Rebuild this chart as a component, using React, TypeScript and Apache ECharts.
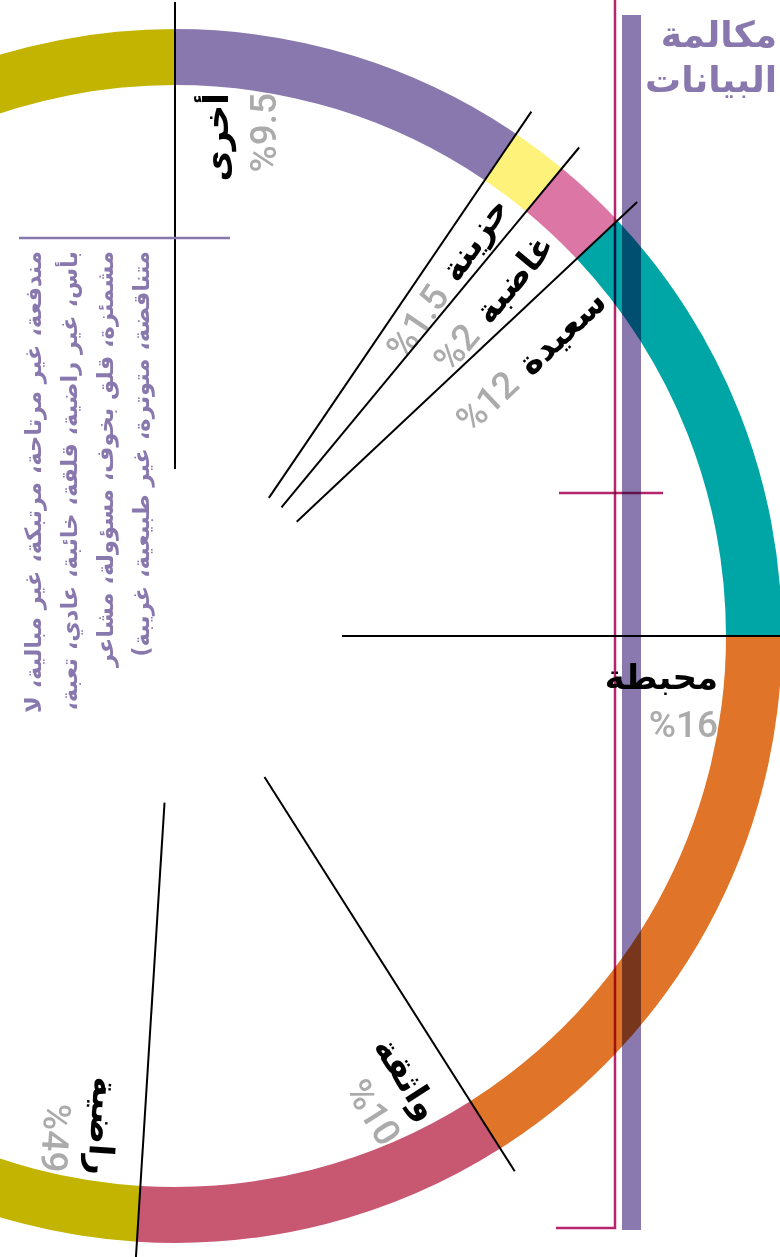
import React, { useEffect, useRef } from "react";
import * as echarts from "echarts";

// ---- data ----
const categories = ["أخرى", "حزينة", "غاضبة", "سعيدة", "محبطة", "واثقة", "راضية"];
const values = [9.5, 1.5, 2, 12, 16, 10, 49];
const colors = ["#8878ae", "#fff27a", "#dc76a4", "#00a6a6", "#e07428", "#c85872", "#c2b400"];
const titleLines = ["مكالمة", "البيانات"];
const noteLines = [
  "مندفعة، غير مرتاحة، مرتبكة، غير مبالية، لا",
  "بأس، غير راضية، قلقة، خائبة، عادي، تعبة،",
  "مشمئزة، قلق بخوف، مسؤولة، مشاعر",
  "متناقضة، متوترة، غير طبيعية، غريبة)",
];

// ---- label styling (layout only) ----
const labelLayout = ["stacked", "inline", "inline", "inline", "stacked", "stacked", "stacked"];
const labelOffset = [41, 24, 33, 43, 41, 41, 41];

const RLM = "\u200f";
const CX = 175;
const CY = 636;
const LINE_R0 = 167;
const LINE_R1 = 634;
const LABEL_R = 543;
const BLACK_FONT = 'bold 34px "DejaVu Sans"';
const GRAY_FONT = '500 37px Roboto';
const GRAY = "#ababab";
const PURPLE = "#8878ae";
const BAR = "#8979ae";
const MAGENTA = "#b5256c";

const cumStarts: number[] = [];
values.reduce((acc, v) => {
  cumStarts.push(acc);
  return acc + v;
}, 0);

const pct = (v: number) => "%" + v;

export default function App() {
  const ref = useRef<HTMLDivElement>(null);
  useEffect(() => {
    if (!ref.current) return;
    const chart = echarts.init(ref.current, null, { renderer: "svg" });
    const option: any = {
      animation: false,
      backgroundColor: "#ffffff",
      polar: { center: [CX, CY], radius: 700 },
      radiusAxis: { type: "value", min: 0, max: 700, show: false, axisLine: { show: false }, splitLine: { show: false }, axisLabel: { show: false }, axisTick: { show: false } },
      angleAxis: { type: "value", min: 0, max: 100, startAngle: 90, clockwise: true, show: false, axisLine: { show: false }, splitLine: { show: false }, axisLabel: { show: false }, axisTick: { show: false } },
      series: [
        {
          type: "pie",
          center: [CX, CY],
          radius: [551, 607],
          startAngle: 90,
          clockwise: true,
          silent: true,
          label: { show: false },
          labelLine: { show: false },
          emphasis: { disabled: true },
          z: 2,
          data: categories.map((n, i) => ({ name: n, value: values[i], itemStyle: { color: colors[i] } })),
        },
        {
          type: "custom",
          coordinateSystem: "polar",
          silent: true,
          z: 6,
          data: categories.map((_, i) => [i, cumStarts[i]]),
          renderItem: (params: any, api: any) => {
            const i = params.dataIndex;
            const start = api.value(1);
            const c = api.coord([0, start]);
            const p0 = api.coord([LINE_R0, start]);
            const p1 = api.coord([LINE_R1, start]);
            const a = api.coord([LABEL_R, start]);
            const phi = Math.atan2(-(p1[1] - c[1]), p1[0] - c[0]);
            const children: any[] = [
              {
                type: "line",
                shape: { x1: p0[0], y1: p0[1], x2: p1[0], y2: p1[1] },
                style: { stroke: "#000", lineWidth: 2 },
              },
            ];
            const off = labelOffset[i];
            if (labelLayout[i] === "stacked") {
              children.push({
                type: "text",
                x: a[0],
                y: a[1],
                rotation: phi,
                style: {
                  text: categories[i],
                  x: 0,
                  y: off,
                  fill: "#000",
                  font: BLACK_FONT,
                  align: "right",
                  verticalAlign: "middle",
                  textAlign: "right",
                  textVerticalAlign: "middle",
                },
              });
              children.push({
                type: "text",
                x: a[0],
                y: a[1],
                rotation: phi,
                style: {
                  text: pct(values[i]),
                  x: 0,
                  y: off + 47,
                  fill: GRAY,
                  font: GRAY_FONT,
                  align: "right",
                  verticalAlign: "middle",
                  textAlign: "right",
                  textVerticalAlign: "middle",
                },
              });
            } else {
              children.push({
                type: "text",
                x: a[0],
                y: a[1],
                rotation: phi,
                style: {
                  text: "{g|" + pct(values[i]) + "}{s| }{b|" + categories[i] + "}",
                  x: 0,
                  y: off,
                  align: "right",
                  verticalAlign: "middle",
                  textAlign: "right",
                  textVerticalAlign: "middle",
                  rich: {
                    g: { font: GRAY_FONT, fill: GRAY, color: GRAY, verticalAlign: "middle" },
                    s: { font: '12px "DejaVu Sans"', fill: "#000", color: "#000", width: 14 },
                    b: { font: BLACK_FONT, fill: "#000", color: "#000", verticalAlign: "middle" },
                  },
                },
              });
            }
            return { type: "group", children };
          },
        },
      ],
      graphic: [
        {
          type: "text",
          x: 777,
          y: 12,
          z: 20,
          style: {
            text: titleLines.join("\n"),
            align: "right",
            verticalAlign: "top",
            font: 'bold 36px "DejaVu Sans"',
            lineHeight: 45,
            fill: PURPLE,
          },
        },
        {
          type: "line",
          z: 20,
          shape: { x1: 19, y1: 238, x2: 230, y2: 238 },
          style: { stroke: PURPLE, lineWidth: 2.5 },
        },
        {
          type: "text",
          x: 15,
          y: 251,
          rotation: Math.PI / 2,
          z: 20,
          style: {
            text: noteLines.map((l) => l + RLM).join("\n"),
            x: 0,
            y: 0,
            align: "right",
            verticalAlign: "top",
            font: 'bold 22.5px "DejaVu Sans"',
            lineHeight: 36,
            fill: PURPLE,
          },
        },
        {
          type: "polyline",
          z: 30,
          shape: { points: [[615, 0], [615, 1228], [556, 1228]] },
          style: { stroke: MAGENTA, lineWidth: 2.5, fill: null, blend: "multiply" },
        },
        {
          type: "line",
          z: 30,
          shape: { x1: 559, y1: 493, x2: 663, y2: 493 },
          style: { stroke: MAGENTA, lineWidth: 2.5, blend: "multiply" },
        },
        {
          type: "rect",
          z: 40,
          shape: { x: 622, y: 15, width: 19, height: 1215 },
          style: { fill: BAR, blend: "multiply" },
        },
      ],
    };
    chart.setOption(option);
    return () => chart.dispose();
  }, []);
  return (
    <>
      <style>{`[fill="${BAR}" i]{mix-blend-mode:multiply}[stroke="${MAGENTA}" i]{mix-blend-mode:multiply}`}</style>
      <div ref={ref} style={{ position: "absolute", left: 0, top: 0, width: 780, height: 1257 }} />
    </>
  );
}
